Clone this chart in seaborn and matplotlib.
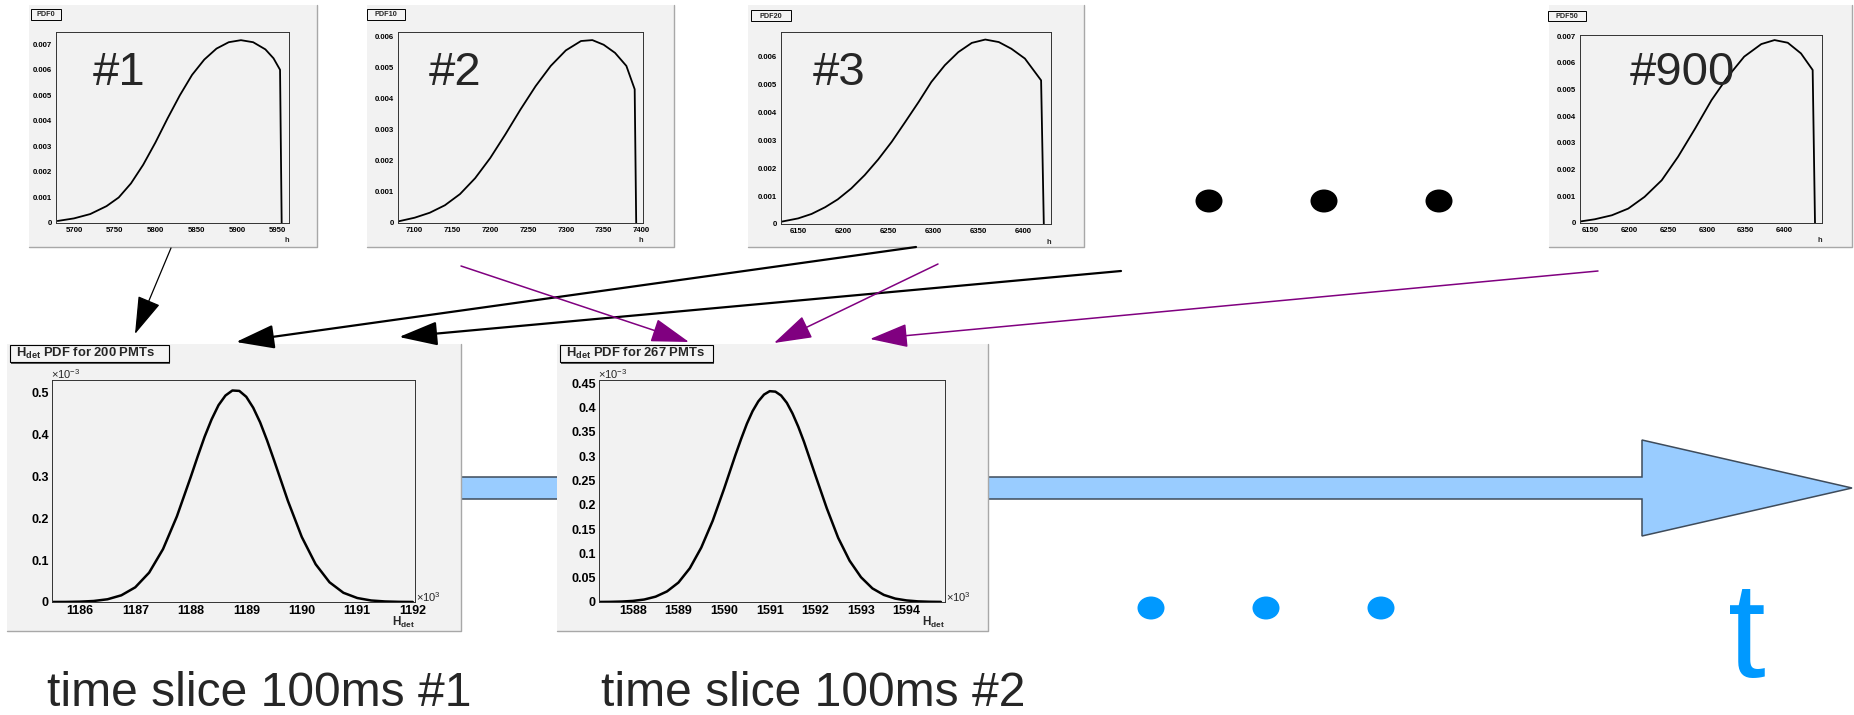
import matplotlib
matplotlib.use("Agg")
import matplotlib.pyplot as plt
from matplotlib.patches import Rectangle, Polygon, Ellipse
from matplotlib.ticker import MultipleLocator, AutoMinorLocator, FuncFormatter
import seaborn as sns

# ---- values ----
pdf0_h = [5680, 5700, 5720, 5740, 5755, 5770, 5785, 5800, 5815, 5830, 5845, 5860,
          5875, 5890, 5905, 5920, 5935, 5945, 5953, 5955]
pdf0_p = [0.00008, 0.00018, 0.00035, 0.00066, 0.001, 0.00155, 0.00228, 0.00315,
          0.0041, 0.005, 0.0058, 0.0064, 0.00683, 0.00708, 0.00716, 0.00708,
          0.0068, 0.00645, 0.006, 0.0]

pdf10_h = [7078, 7100, 7120, 7140, 7160, 7180, 7200, 7220, 7240, 7260, 7280, 7300,
           7320, 7335, 7350, 7365, 7380, 7391, 7393]
pdf10_p = [0.00005, 0.00017, 0.00033, 0.00057, 0.00093, 0.00144, 0.00209, 0.00285,
           0.00365, 0.0044, 0.00505, 0.00555, 0.00585, 0.00588, 0.00573, 0.00547,
           0.00505, 0.0043, 0.0]

pdf20_h = [6131, 6150, 6165, 6180, 6194, 6209, 6224, 6239, 6254, 6269, 6284, 6298,
           6313, 6328, 6343, 6358, 6373, 6387, 6402, 6420, 6423]
pdf20_p = [0.00008, 0.0002, 0.00036, 0.0006, 0.00088, 0.00127, 0.00175, 0.00231,
           0.00294, 0.00365, 0.00437, 0.00508, 0.00568, 0.00615, 0.00648, 0.0066,
           0.00651, 0.00627, 0.00592, 0.00514, 0.0]

pdf50_h = [6138, 6156, 6178, 6199, 6220, 6242, 6263, 6285, 6306, 6327, 6348, 6370,
           6387, 6404, 6421, 6436, 6439]
pdf50_p = [0.00006, 0.00014, 0.00029, 0.00054, 0.00098, 0.0016, 0.00248, 0.00354,
           0.0046, 0.00548, 0.00623, 0.0067, 0.00685, 0.00675, 0.00635, 0.00573, 0.0]

# H_det in units of 10^3, pdf in units of 10^-3
slice1_h = [1185.5, 1185.75, 1186.0, 1186.25, 1186.5, 1186.75, 1187.0, 1187.25, 1187.5,
            1187.75, 1188.0, 1188.125, 1188.25, 1188.375, 1188.5, 1188.625, 1188.75,
            1188.875, 1189.0, 1189.125, 1189.25, 1189.375, 1189.5, 1189.75,
            1190.0, 1190.25, 1190.5, 1190.75, 1191.0, 1191.25, 1191.5, 1191.75, 1192.0]
slice1_p = [0.0001, 0.0002, 0.0008, 0.0024, 0.0065, 0.016, 0.035, 0.070, 0.126, 0.204,
            0.298, 0.347, 0.394, 0.435, 0.469, 0.492, 0.504, 0.503, 0.489, 0.463,
            0.428, 0.385, 0.338, 0.241, 0.155, 0.090, 0.047,
            0.022, 0.0095, 0.0036, 0.0013, 0.0004, 0.0001]

slice2_h = [1587.25, 1587.5, 1587.75, 1588.0, 1588.25, 1588.5, 1588.75, 1589.0, 1589.25,
            1589.5, 1589.75, 1590.0, 1590.25, 1590.375, 1590.5, 1590.625, 1590.75,
            1590.875, 1591.0, 1591.125, 1591.25, 1591.375, 1591.5, 1591.625,
            1591.75, 1592.0, 1592.25, 1592.5, 1592.75, 1593.0, 1593.25, 1593.5, 1593.75,
            1594.0, 1594.25, 1594.5, 1594.75]
slice2_p = [0.0001, 0.0003, 0.0009, 0.0022, 0.0051, 0.011, 0.0218, 0.040, 0.0695, 0.112,
            0.167, 0.233, 0.303, 0.336, 0.367, 0.393, 0.413, 0.427, 0.434, 0.433,
            0.425, 0.410, 0.388, 0.361, 0.330, 0.261, 0.193,
            0.132, 0.085, 0.051, 0.028, 0.0146, 0.007, 0.0032, 0.0013, 0.0005, 0.0002]

small_names = ["PDF0", "PDF10", "PDF20", "PDF50"]
small_tags = ["#1", "#2", "#3", "#900"]
small_xlim = [(5678, 5964), (7078, 7402), (6131, 6431), (6137, 6448)]
small_ylim = [0.00748, 0.00614, 0.00687, 0.00704]
big_titles = ["200", "267"]
big_xlim = [(1185.5, 1192.04), (1587.26, 1594.84)]
big_ylim = [0.529, 0.457]
big_ystep = [0.1, 0.05]
slice_labels = ["time slice 100ms #1", "time slice 100ms #2"]

# ---- layout (pixels) ----
W, H = 1854, 715
small_pad = [(29, 5, 317, 247), (367, 5, 674, 247), (748, 5, 1084, 247), (1549, 5, 1852, 247)]
small_frame = [(56, 32, 289, 223), (398, 32, 643, 223), (781, 32, 1051, 224), (1580, 35, 1822, 223)]
small_titlebox = [(31, 9, 61, 20), (367, 9, 405, 20), (751, 10, 791, 21), (1548, 11, 1586, 21)]
small_tagx = [93, 429, 813, 1630]
big_pad = [(7, 344, 461, 631), (557, 344, 988, 631)]
big_frame = [(52, 380, 415, 602), (599, 380, 945, 602)]
big_titlebox = [(10, 345, 169, 362), (560, 345, 713, 362)]
slice_x = [47, 601]

sns.set_style("white")
plt.rcParams["font.family"] = ["Liberation Sans", "DejaVu Sans"]
plt.rcParams["mathtext.fontset"] = "custom"
plt.rcParams["mathtext.rm"] = "Liberation Sans"
plt.rcParams["mathtext.bf"] = "Liberation Sans:bold"

fig = plt.figure(figsize=(W / 100, H / 100), dpi=100)
fig.patch.set_facecolor("white")


def box(l, t, r, b):
    return [l / W, 1 - b / H, (r - l) / W, (b - t) / H]


bg = fig.add_axes([0, 0, 1, 1], zorder=0)
top = fig.add_axes([0, 0, 1, 1], zorder=5)
for a in (bg, top):
    a.set_xlim(0, W)
    a.set_ylim(H, 0)
    a.axis("off")

# big time arrow, behind the pads
bg.add_patch(Polygon([(300, 477), (1642, 477), (1642, 440), (1852, 488), (1642, 536),
                      (1642, 499), (300, 499)], closed=True, facecolor="#99ccff",
                     edgecolor="#3e4b5a", linewidth=1.1, zorder=1))


def pad(l, t, r, b):
    bg.add_patch(Rectangle((l, t), r - l, b - t, facecolor="#f2f2f2", edgecolor="none", zorder=2))
    bg.plot([r, r, l], [t, b, b], color="#a8a8a8", lw=1.0, zorder=3)


def style_axes(ax, xmaj, ymaj, xsub, ysub, lsize, tmaj, tmin, lpad, yfmt):
    ax.set_facecolor("#f2f2f2")
    for s in ax.spines.values():
        s.set_color("#333333")
        s.set_linewidth(0.7)
        s.set_visible(True)
    ax.xaxis.set_major_locator(MultipleLocator(xmaj))
    ax.yaxis.set_major_locator(MultipleLocator(ymaj))
    ax.xaxis.set_minor_locator(AutoMinorLocator(xsub))
    ax.yaxis.set_minor_locator(AutoMinorLocator(ysub))
    ax.yaxis.set_major_formatter(FuncFormatter(yfmt))
    ax.xaxis.set_major_formatter(FuncFormatter(lambda v, p: "%g" % round(v, 3)))
    ax.tick_params(which="both", direction="in", top=False, right=False, width=0.6,
                   colors="black")
    ax.tick_params(which="major", length=tmaj, labelsize=lsize, pad=lpad)
    ax.tick_params(which="minor", length=tmin)
    ax.set_xlabel("")
    ax.set_ylabel("")
    plt.setp(ax.get_xticklabels() + ax.get_yticklabels(), fontweight="bold")


small_data = [(pdf0_h, pdf0_p), (pdf10_h, pdf10_p), (pdf20_h, pdf20_p), (pdf50_h, pdf50_p)]
for i in range(4):
    pad(*small_pad[i])
    ax = fig.add_axes(box(*small_frame[i]), zorder=1)
    xs, ys = small_data[i]
    sns.lineplot(x=xs, y=ys, ax=ax, color="black", linewidth=1.3, estimator=None, sort=False)
    ax.set_xlim(*small_xlim[i])
    ax.set_ylim(0, small_ylim[i])
    style_axes(ax, 50, 0.001, 5, 5, 5.6, 4.3, 2.2, 3,
               lambda v, p: "0" if abs(v) < 1e-12 else "%.3f" % v)
    l, t, r, b = small_titlebox[i]
    top.add_patch(Rectangle((l, t), r - l, b - t, facecolor="#f4f4f4", edgecolor="black", lw=0.7))
    top.text((l + r) / 2, (t + b) / 2 + 0.5, small_names[i], fontsize=5.2, fontweight="bold",
             ha="center", va="center")
    fl, ft, fr, fb = small_frame[i]
    top.text(fr, fb + 18, "h", fontsize=5.4, fontweight="bold", ha="right", va="center")
    top.text(small_tagx[i], 85, small_tags[i], fontsize=34, ha="left", va="baseline")

big_data = [(slice1_h, slice1_p), (slice2_h, slice2_p)]
for i in range(2):
    pad(*big_pad[i])
    ax = fig.add_axes(box(*big_frame[i]), zorder=1)
    xs, ys = big_data[i]
    sns.lineplot(x=xs, y=ys, ax=ax, color="black", linewidth=1.8, estimator=None, sort=False)
    ax.set_xlim(*big_xlim[i])
    ax.set_ylim(0, big_ylim[i])
    style_axes(ax, 1, big_ystep[i], 4, 5, 9, 7, 3.5, 2.4,
               lambda v, p: "%g" % round(v, 3))
    l, t, r, b = big_titlebox[i]
    top.add_patch(Rectangle((l + 1.5, t + 1.5), r - l, b - t, facecolor="#555555", edgecolor="none"))
    top.add_patch(Rectangle((l, t), r - l, b - t, facecolor="#f4f4f4", edgecolor="black", lw=0.8))
    top.text(l + 6, (t + b) / 2, r"H$_{\mathbf{det}}$ PDF for %s PMTs" % big_titles[i],
             fontsize=9.4, fontweight="bold", ha="left", va="center")
    fl, ft, fr, fb = big_frame[i]
    top.text(fl - 1, ft - 6, r"$\times$10$^{-3}$", fontsize=8, ha="left", va="center")
    top.text(fr + 1, fb - 5, r"$\times$10$^{3}$", fontsize=8, ha="left", va="center")
    top.text(fr, fb + 20, r"H$_{\mathbf{det}}$", fontsize=8.5, fontweight="bold",
             ha="right", va="center")
    top.text(slice_x[i], 706, slice_labels[i], fontsize=34.6, ha="left", va="baseline")

# pointer arrows from the single-PMT pdfs to the time-slice pdfs
arrows = [((171, 248), (135, 334), "black", 0.9),
          ((916, 247), (236, 342), "black", 1.6),
          ((1121, 271), (399, 337), "black", 1.6),
          ((461, 266), (689, 342), "#800080", 1.1),
          ((938, 264), (774, 343), "#800080", 1.1),
          ((1598, 271), (870, 339), "#800080", 1.1)]
for start, end, col, lw in arrows:
    top.annotate("", xy=end, xytext=start,
                 arrowprops=dict(arrowstyle="-|>,head_length=24,head_width=7.5",
                                 mutation_scale=1, color=col, lw=lw,
                                 shrinkA=0, shrinkB=0))

# ellipsis dots
for cx in [1209, 1324, 1439]:
    top.add_patch(Ellipse((cx, 201), 27, 23, facecolor="black", edgecolor="none"))
for cx in [1151, 1266, 1381]:
    top.add_patch(Ellipse((cx, 608), 27, 23, facecolor="#0099ff", edgecolor="none"))

top.text(1728, 677, "t", fontsize=98, color="#0099ff", ha="left", va="baseline")

fig.savefig("out.png", dpi=100, facecolor="white")
